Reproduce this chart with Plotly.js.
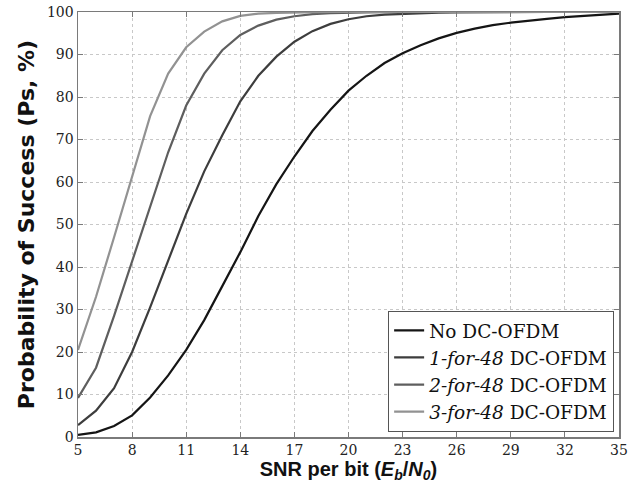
<!DOCTYPE html>
<html>
<head>
<meta charset="utf-8">
<script src="https://cdn.plot.ly/plotly-3.0.1.min.js"></script>
<style>html,body{margin:0;padding:0;background:#fff;}#chart{width:644px;height:489px;}</style>
</head>
<body>
<div id="chart"></div>
<script>
const snr = [5,6,7,8,9,10,11,12,13,14,15,16,17,18,19,20,21,22,23,24,25,26,27,28,29,30,31,32,33,34,35];
const noDC   = [0.5,1.1,2.6,5.1,9.3,14.5,20.5,27.5,35.5,43.5,52,59.5,66,72,77,81.5,85,88,90.3,92.2,93.8,95.1,96.1,96.9,97.5,98,98.4,98.8,99.1,99.4,99.6];
const one48  = [2.8,6.2,11.5,20,30.5,41.5,52.5,62.5,71,79,85,89.5,93,95.5,97.2,98.3,99,99.4,99.6,99.75,99.85,99.9,99.95,99.95,100,100,100,100,100,100,100];
const two48  = [9.2,16.3,28.5,41.5,54.5,67,78,85.5,91,94.6,96.8,98.2,99,99.5,99.7,99.85,99.9,99.95,100,100,100,100,100,100,100,100,100,100,100,100,100];
const three48= [20.5,33,47,61.5,75.5,85.5,91.7,95.4,97.8,99.1,99.6,99.8,99.9,99.95,100,100,100,100,100,100,100,100,100,100,100,100,100,100,100,100,100];
const names = ['No DC-OFDM','<i>1-for-48</i> DC-OFDM','<i>2-for-48</i> DC-OFDM','<i>3-for-48</i> DC-OFDM'];
const series = [noDC, one48, two48, three48];
const colors = ['#151515','#3d3d3d','#5e5e5e','#929292'];
const xTicks = [5,8,11,14,17,20,23,26,29,32,35];
const yTicks = [0,10,20,30,40,50,60,70,80,90,100];

const traces = series.map((ys,i)=>({
  x: snr, y: ys, type:'scatter', mode:'lines', name: names[i],
  line:{color:colors[i], width:2.2}
}));

const axisCommon = {
  showline:true, linecolor:'#7a7a7a', linewidth:1.5, mirror:'ticks',
  ticks:'inside', ticklen:5, tickcolor:'#7a7a7a',
  showgrid:true, gridcolor:'#c8c8c8', griddash:'dot', gridwidth:1,
  zeroline:false,
  tickfont:{family:'DejaVu Serif', size:14, color:'#222'}
};

const layout = {
  width:644, height:489,
  margin:{l:78, r:25, t:12, b:52},
  paper_bgcolor:'#fff', plot_bgcolor:'#fff',
  showlegend:true,
  xaxis: Object.assign({}, axisCommon, {
    range:[5,35], tickvals:xTicks, ticktext:xTicks.map(String),
    title:{text:'SNR per bit (<i>E</i><sub><i>b</i></sub>/<i>N</i><sub><i>0</i></sub>)', font:{family:'Liberation Sans', size:20, color:'#111', weight:'bold'}, standoff:3}
  }),
  yaxis: Object.assign({}, axisCommon, {
    range:[0,100], tickvals:yTicks, ticktext:yTicks.map(String),
    title:{text:'Probability of Success (Ps, %)', font:{family:'DejaVu Sans', size:22, color:'#111', weight:'bold'}, standoff:6}
  }),
  legend:{
    x:0.991, xanchor:'right', y:0.012, yanchor:'bottom',
    bgcolor:'#fff', bordercolor:'#555', borderwidth:1,
    font:{family:'DejaVu Serif', size:18.5, color:'#111'},
    tracegroupgap:0
  }
};

Plotly.newPlot('chart', traces, layout, {displayModeBar:false, staticPlot:true});
</script>
</body>
</html>
